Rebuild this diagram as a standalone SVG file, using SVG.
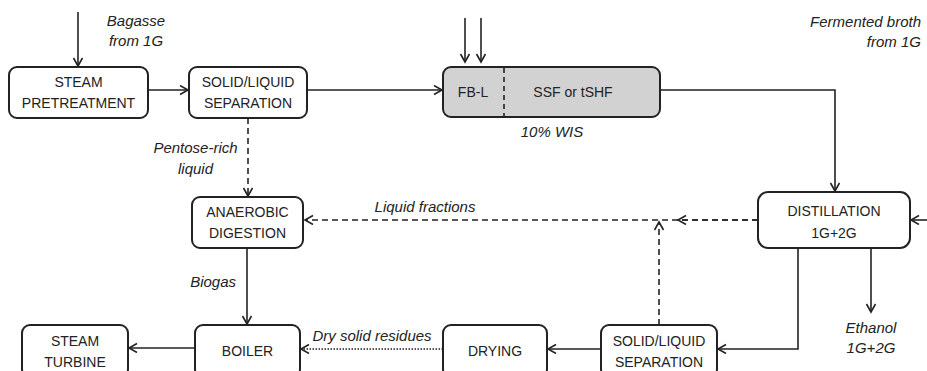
<svg xmlns="http://www.w3.org/2000/svg" width="927" height="371" viewBox="0 0 927 371">
<style>
.box{fill:#fff;stroke:#222;stroke-width:2}
.gbox{fill:#d2d2d2;stroke:#222;stroke-width:2}
.t{font-family:"Liberation Sans",Arial,sans-serif;font-size:14px;fill:#222;text-anchor:middle}
.i{font-family:"Liberation Sans",Arial,sans-serif;font-size:15px;fill:#222;font-style:italic}
.c{fill:none;stroke:#222;stroke-width:1.6}
.d{stroke-dasharray:6,4}
.dot{stroke-dasharray:1.5,1.5}
</style>
<defs>
<marker id="a" markerWidth="12" markerHeight="12" refX="9" refY="5" orient="auto" markerUnits="userSpaceOnUse">
<path d="M1,0.5 L9,5 L1,9.5" fill="none" stroke="#222" stroke-width="1.6"/>
</marker>
</defs>
<g id="connectors">
<path class="c" d="M78,12 V66" marker-end="url(#a)"/>
<path class="c" d="M148,90 H188" marker-end="url(#a)"/>
<path class="c" d="M307,90 H442" marker-end="url(#a)"/>
<path class="c" d="M465,18 V62" marker-end="url(#a)"/>
<path class="c" d="M481,18 V62" marker-end="url(#a)"/>
<path class="c" d="M660,90 H835 V191" marker-end="url(#a)"/>
<path class="c" d="M927,220 H911" marker-end="url(#a)"/>
<path class="c d" d="M248,118 V196" marker-end="url(#a)"/>
<path class="c d" d="M758,220 H305" marker-end="url(#a)"/>
<path class="c d" d="M758,220 H678" marker-end="url(#a)"/>
<path class="c d" d="M659,325 V222" marker-end="url(#a)"/>
<path class="c" d="M798,248 V349 H718" marker-end="url(#a)"/>
<path class="c" d="M871,248 V312" marker-end="url(#a)"/>
<path class="c" d="M601,349 H548" marker-end="url(#a)"/>
<path class="c dot" d="M443,349 H301" marker-end="url(#a)"/>
<path class="c" d="M247,248 V324" marker-end="url(#a)"/>
<path class="c" d="M195,348 H129" marker-end="url(#a)"/>
</g>
<g id="steam-pretreatment">
<rect class="box" x="9" y="67" width="139" height="51" rx="8"/>
<text class="t" x="78.5" y="87">STEAM</text>
<text class="t" x="78.5" y="108">PRETREATMENT</text>
</g>
<g id="sls1">
<rect class="box" x="189" y="67" width="118" height="51" rx="8"/>
<text class="t" x="248" y="87">SOLID/LIQUID</text>
<text class="t" x="248" y="108">SEPARATION</text>
</g>
<g id="fermentation">
<rect class="gbox" x="443" y="67" width="217" height="50" rx="8"/>
<line x1="504" y1="68" x2="504" y2="116" stroke="#222" stroke-width="1.6" stroke-dasharray="5,4"/>
<text class="t" x="473" y="97">FB-L</text>
<text class="t" x="573" y="97">SSF or tSHF</text>
</g>
<g id="anaerobic">
<rect class="box" x="192" y="197" width="111" height="51" rx="8"/>
<text class="t" x="247.5" y="217">ANAEROBIC</text>
<text class="t" x="247.5" y="238">DIGESTION</text>
</g>
<g id="distillation">
<rect class="box" x="758" y="192" width="152" height="56" rx="10"/>
<text class="t" x="834" y="216">DISTILLATION</text>
<text class="t" x="834" y="238">1G+2G</text>
</g>
<g id="sls2">
<rect class="box" x="601" y="325" width="116" height="52" rx="8"/>
<text class="t" x="659" y="346">SOLID/LIQUID</text>
<text class="t" x="659" y="367">SEPARATION</text>
</g>
<g id="drying">
<rect class="box" x="443" y="325" width="104" height="52" rx="8"/>
<text class="t" x="495" y="356">DRYING</text>
</g>
<g id="boiler">
<rect class="box" x="195" y="325" width="105" height="52" rx="8"/>
<text class="t" x="247.5" y="356">BOILER</text>
</g>
<g id="steam-turbine">
<rect class="box" x="22" y="325" width="106" height="52" rx="8"/>
<text class="t" x="75" y="346">STEAM</text>
<text class="t" x="75" y="367">TURBINE</text>
</g>
<g id="labels">
<text class="i" x="136" y="26" text-anchor="middle">Bagasse</text>
<text class="i" x="136" y="46" text-anchor="middle">from 1G</text>
<text class="i" x="921" y="27" text-anchor="end">Fermented broth</text>
<text class="i" x="921" y="47" text-anchor="end">from 1G</text>
<text class="i" x="552" y="137" text-anchor="middle">10% WIS</text>
<text class="i" x="195.5" y="153" text-anchor="middle">Pentose-rich</text>
<text class="i" x="195.5" y="174" text-anchor="middle">liquid</text>
<text class="i" x="425" y="212" text-anchor="middle">Liquid fractions</text>
<text class="i" x="236" y="287" text-anchor="end">Biogas</text>
<text class="i" x="372" y="341" text-anchor="middle">Dry solid residues</text>
<text class="i" x="871" y="333" text-anchor="middle">Ethanol</text>
<text class="i" x="871" y="353" text-anchor="middle">1G+2G</text>
</g>
</svg>
